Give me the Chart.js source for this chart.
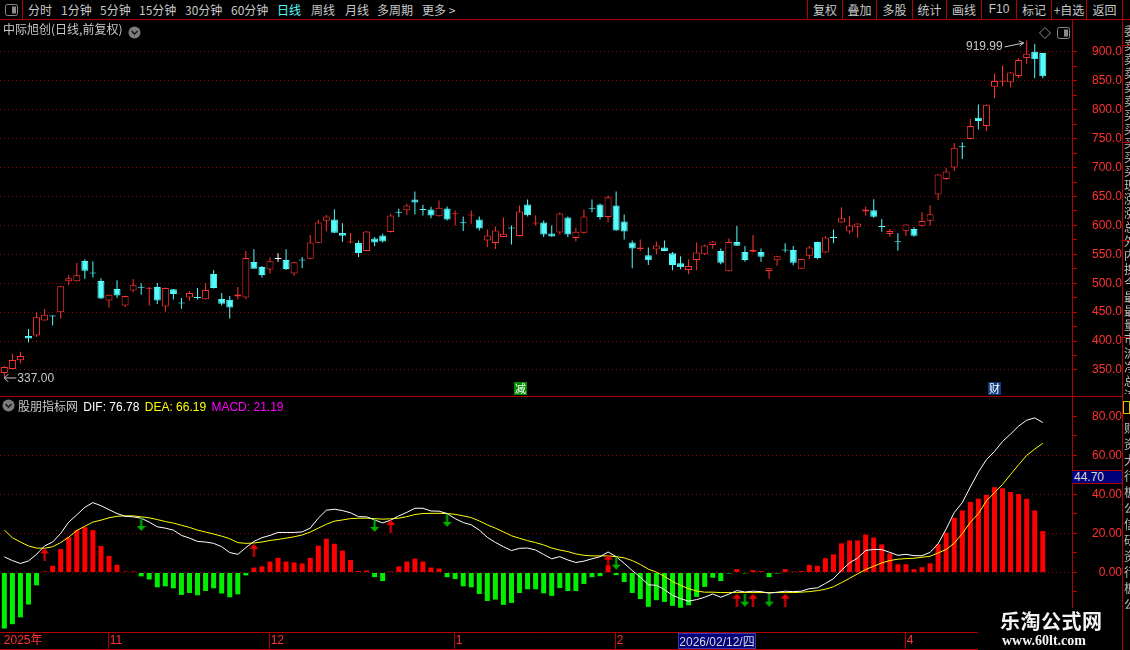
<!DOCTYPE html>
<html lang="zh">
<head>
  <meta charset="UTF-8">
  <title>中际旭创 日线 MACD</title>
  <style>
    body {
      margin: 0;
      background: #000;
    }
    #wrap {
      position: relative;
      width: 1130px;
      height: 650px;
      background: #000;
      overflow: hidden;
      font-family: "Liberation Sans", "Noto Sans CJK SC", sans-serif;
      font-size: 12px;
      color: #c8c8c8;
    }
    canvas, .abs {
      position: absolute;
    }
    .hline {
      position: absolute;
      height: 1px;
      background: #b00000;
    }
    .vline {
      position: absolute;
      width: 1px;
      background: #b00000;
    }
    .tb {
      position: absolute;
      top: 0;
      line-height: 19px;
      white-space: nowrap;
      font-family: "Noto Sans CJK SC", sans-serif;
    }
    .btn {
      position: absolute;
      top: 0;
      line-height: 19px;
      text-align: center;
      font-family: "Noto Sans CJK SC", sans-serif;
    }
    .cjk {
      font-family: "Noto Sans CJK SC", sans-serif;
    }
  </style>
  <script src="https://cdn.jsdelivr.net/npm/chart.js"></script>
</head>
<body>
<div id="wrap">
  <canvas id="priceChart" width="1122" height="377" style="left:0;top:20px"></canvas>
  <canvas id="macdChart" width="1122" height="253" style="left:0;top:397px"></canvas>

  <!-- toolbar -->
  <div class="abs" style="left:5px;top:4px">
    <svg width="13" height="12"><rect x="0.5" y="0.5" width="12" height="11" rx="2" fill="none" stroke="#8a8a8a"/><rect x="7" y="2.5" width="4" height="7" fill="#8a8a8a"/></svg>
  </div>
  <div class="vline" style="left:22px;top:0;height:20px"></div>
  <span class="tb" style="left:28px">分时</span>
  <span class="tb" style="left:61px">1分钟</span>
  <span class="tb" style="left:100px">5分钟</span>
  <span class="tb" style="left:139px">15分钟</span>
  <span class="tb" style="left:185px">30分钟</span>
  <span class="tb" style="left:231px">60分钟</span>
  <span class="tb" style="left:277px;color:#54fcfc">日线</span>
  <span class="tb" style="left:311px">周线</span>
  <span class="tb" style="left:345px">月线</span>
  <span class="tb" style="left:377px">多周期</span>
  <span class="tb" style="left:422px">更多 &gt;</span>

  <div class="vline" style="left:807px;top:0;height:20px"></div>
  <div class="vline" style="left:842px;top:0;height:20px"></div>
  <div class="vline" style="left:876px;top:0;height:20px"></div>
  <div class="vline" style="left:912px;top:0;height:20px"></div>
  <div class="vline" style="left:946px;top:0;height:20px"></div>
  <div class="vline" style="left:981px;top:0;height:20px"></div>
  <div class="vline" style="left:1016px;top:0;height:20px"></div>
  <div class="vline" style="left:1051px;top:0;height:20px"></div>
  <div class="vline" style="left:1086px;top:0;height:20px"></div>
  <span class="btn" style="left:808px;width:34px">复权</span>
  <span class="btn" style="left:843px;width:33px">叠加</span>
  <span class="btn" style="left:877px;width:35px">多股</span>
  <span class="btn" style="left:913px;width:33px">统计</span>
  <span class="btn" style="left:947px;width:34px">画线</span>
  <span class="btn" style="left:982px;width:34px;font-family:'Liberation Sans'">F10</span>
  <span class="btn" style="left:1017px;width:34px">标记</span>
  <span class="btn" style="left:1052px;width:34px">+自选</span>
  <span class="btn" style="left:1087px;width:35px">返回</span>

  <div class="hline" style="left:0;top:19px;width:1130px"></div>

  <!-- price panel title -->
  <span class="abs cjk" style="left:3px;top:21px;line-height:16px">中际旭创(日线,前复权)</span>
  <div class="abs" style="left:128px;top:26px">
    <svg width="13" height="13"><circle cx="6.5" cy="6.5" r="6" fill="#7c7c7c"/><polyline points="3.5,5 6.5,8 9.5,5" fill="none" stroke="#1a1a1a" stroke-width="1.6"/></svg>
  </div>
  <div class="abs" style="left:1039px;top:27px">
    <svg width="12" height="12"><polygon points="6,0.5 11.5,6 6,11.5 0.5,6" fill="none" stroke="#8a8a8a"/></svg>
  </div>
  <div class="abs" style="left:1057px;top:27px">
    <svg width="13" height="12"><rect x="0.5" y="0.5" width="12" height="11" rx="2" fill="none" stroke="#8a8a8a"/><rect x="7" y="2.5" width="4" height="7" fill="#8a8a8a"/></svg>
  </div>

  <div class="hline" style="left:0;top:396px;width:1122px"></div>

  <!-- MACD panel title -->
  <div class="abs" style="left:2px;top:399px">
    <svg width="13" height="13"><circle cx="6.5" cy="6.5" r="6" fill="#7c7c7c"/><polyline points="3.5,5 6.5,8 9.5,5" fill="none" stroke="#1a1a1a" stroke-width="1.6"/></svg>
  </div>
  <span class="abs" style="left:18px;top:398px;line-height:16px;white-space:nowrap">
    <span class="cjk">股朋指标网</span>
    <span style="color:#ffffff;margin-left:2px">DIF: 76.78</span>
    <span style="color:#ffff00;margin-left:2px">DEA: 66.19</span>
    <span style="color:#ff00ff;margin-left:2px">MACD: 21.19</span>
  </span>

  <div class="abs" style="left:1072px;top:470px;width:50px;height:14px;background:#00007a;border-top:1px solid #b00000;border-bottom:1px solid #b00000;color:#d8d8d8;line-height:12px;padding-left:2px;box-sizing:border-box">44.70</div>

  <!-- bottom date axis frame -->
  <div class="hline" style="left:0;top:649px;width:978px"></div>
  <div class="abs" style="left:678px;top:633px;width:78px;height:16px;background:#00007a;border:1px solid #3a3aa8;box-sizing:border-box;color:#d8d8d8;line-height:14px;text-align:center;white-space:nowrap">2026/02/12/<span class="cjk">四</span></div>

  <!-- watermark -->
  <div class="abs" style="left:978px;top:608px;width:152px;height:42px;background:#000">
    <div class="abs cjk" style="left:22px;top:1px;font-size:20px;font-weight:bold;color:#f4f4f4;line-height:24px;letter-spacing:0.5px">乐淘公式网</div>
    <div class="abs" style="left:24px;top:25px;font-family:'Liberation Serif',serif;font-size:14px;font-weight:bold;color:#f4f4f4;line-height:16px">www.60lt.com</div>
  </div>

  <!-- right edge -->
  <div class="vline" style="left:1122px;top:0;height:650px"></div>
  <div class="abs cjk" style="left:1124px;top:24px;width:6px;height:370px;overflow:hidden;line-height:14px;color:#bdbdbd">委<br>卖<br>卖<br>卖<br>卖<br>卖<br>买<br>买<br>买<br>买<br>买<br>现<br>涨<br>涨<br>总<br>外<br>内<br>换<br>今<br>最<br>最<br>量<br>市<br>流<br>净<br>总<br>流<br>收</div>
  <div class="abs cjk" style="left:1124px;top:420px;width:6px;height:200px;overflow:hidden;line-height:16px;color:#bdbdbd">财<br>资<br>大<br>行<br>板<br>公<br>信<br>研<br>资<br>行<br>板<br>公</div>
  <div class="hline" style="left:1123px;top:45px;width:7px"></div>
  <div class="hline" style="left:1123px;top:142px;width:7px"></div>
  <div class="hline" style="left:1123px;top:240px;width:7px"></div>
  <div class="hline" style="left:1123px;top:337px;width:7px"></div>
  <div class="abs" style="left:1123px;top:401px;width:7px;height:13px;border:1px solid #c8c800;box-sizing:border-box"></div>
</div>

<script>
  // daily candles (front-adjusted), one entry per trading day
  const opens = [345, 351.7, 366.7, 409, 409.8, 435.6, 443.7, 450, 503.4, 503.4,
    538.5, 517.8, 504, 470, 490.2, 461.5, 487.4, 492.8, 490.6, 493.7,
    459.8, 489.7, 465.8, 475.3, 475, 472.4, 516, 473, 471.3, 477,
    475.3, 536.8, 528.2, 523.6, 542, 540.2, 516.7, 539.9, 542.5, 570,
    608, 610.3, 586.8, 570.4, 569.5, 555.7, 577.6, 582.8, 588.5, 622.7,
    626.4, 644.8, 627.3, 627.6, 616, 629.3, 619.5, 605.2, 617.2, 610.3,
    574, 569.5, 579.9, 595.1, 581.6, 636.2, 603.4, 605.2, 586.2, 588,
    613.8, 578.2, 587.4, 630.5, 636.2, 614.4, 634.5, 606.9, 570.7, 559.2,
    548.3, 558.6, 562, 551.7, 534.5, 523, 540.2, 550, 566.1, 555.7,
    520.7, 571.3, 554, 554.6, 554, 521.3, 539.7, 557.2, 557.5, 525.3,
    547.7, 571.3, 553.4, 579, 605.2, 589.7, 597.7, 624.1, 626.4, 598,
    585, 571.6, 590.8, 593.7, 599.4, 608, 653.4, 680.5, 700, 735.9,
    749.4, 786.2, 771.8, 839.7, 848.3, 847.7, 858.6, 889.7, 900.6, 898.3];

  const closes = [355, 367.2, 374, 404.6, 441.4, 445.4, 442.5, 494.8, 508.6, 513.8,
    521.8, 516.7, 473.6, 480, 478.7, 478, 496.6, 492.2, 491.1, 470,
    492, 481.6, 465.2, 483.3, 474.4, 488.5, 492, 464.4, 458, 480.5,
    543.7, 525.3, 514.4, 538, 542, 524.7, 536.2, 539.3, 570.7, 605,
    615.5, 587.4, 582.2, 571, 552.3, 589.7, 570.7, 572.4, 617.2, 622.1,
    634.5, 639.7, 626.7, 617.2, 630.5, 610.3, 621.3, 604, 618.4, 594.8,
    582.8, 591.4, 585.6, 594.5, 624, 617.8, 605.2, 584.5, 581, 620.7,
    584.5, 589, 615.5, 628.7, 614.4, 648.9, 591.4, 589.7, 560.3, 562,
    539.7, 565.5, 555.7, 531.6, 527.6, 529.9, 553.4, 565.5, 572.4, 535.6,
    571.3, 565, 540.2, 557.5, 546, 525.9, 546.6, 556.6, 535.6, 542,
    562, 543.7, 579.3, 578.4, 612.6, 600, 603.4, 627.6, 615, 597.4,
    590.2, 571, 601.7, 582.2, 607.5, 619.5, 688, 693.1, 734.5, 735.3,
    771.8, 780.5, 808.6, 850, 850, 864.4, 886.2, 897.1, 887.4, 858];

  const highs = [357, 378, 381.5, 420.7, 450, 455.7, 444.8, 495, 513.8, 535,
    541.4, 538, 508.6, 480.5, 505, 478.5, 507.5, 500, 494, 500.6,
    492.5, 490, 474.7, 486.8, 492, 500, 523, 483.3, 478, 493.7,
    555.7, 559, 530, 545, 551.7, 559, 536.8, 545.4, 583.3, 610,
    618, 628, 604, 586.8, 574, 590.3, 580, 585.6, 620, 628.7,
    637.4, 658.6, 636, 632.2, 643, 632.8, 625.9, 615.5, 625.9, 615.5,
    593, 598.3, 613.8, 600, 634.5, 644.8, 617.2, 608.6, 600, 622.4,
    615.5, 596, 627.6, 644.8, 637.9, 651.7, 658.6, 619, 574, 575.9,
    562, 572.4, 574, 554, 546.6, 541.4, 570.7, 567, 572.9, 560.3,
    577.6, 598.9, 564.4, 583.3, 560.3, 526.3, 547, 569, 564.4, 542.4,
    564.4, 571.7, 581.6, 593, 631.6, 616, 603.8, 632.2, 645.4, 611,
    593.7, 586.8, 602.1, 597, 623, 635, 688.4, 699.4, 742.5, 743.7,
    784.5, 809.2, 809, 862.6, 876.4, 866, 889, 919.99, 913.8, 898.7];

  const lows = [337, 351, 361.5, 397.7, 407, 435, 427, 439, 496.5, 503,
    508, 509.8, 473, 458, 475, 459, 484.5, 480, 461.5, 464,
    450.6, 471.8, 456, 470, 471.8, 472, 491, 461.5, 439, 472.4,
    472.4, 525, 509.8, 517, 537.4, 523, 513, 526, 541.4, 569.5,
    590, 587, 572, 569, 545.4, 555.2, 564, 570.7, 588, 614.4,
    617.8, 619, 617, 612.6, 615.5, 608.6, 600, 590.2, 602.9, 591.4,
    562.6, 559.2, 579.4, 567, 581.2, 615.5, 600, 580, 580.6, 584.5,
    580, 572.4, 585.6, 623, 610.3, 605.2, 591, 575.9, 525.9, 555.7,
    531.6, 550.6, 555.2, 522.4, 524.1, 515.5, 522.4, 549, 559.8, 532.8,
    520.3, 564.6, 537.4, 553.4, 537.4, 508, 530, 553.4, 531, 524.9,
    541.4, 541.4, 551.7, 569, 604.8, 585.6, 578.7, 617.2, 613.2, 589,
    580.5, 556.3, 582.2, 580.5, 597.7, 599.4, 643.7, 678.7, 694.3, 715,
    749, 766, 763.2, 820.1, 840.8, 839, 854.6, 878.7, 854.6, 854.6];

  // MACD indicator
  const difVals = [8, 6.1, 4.6, 5.9, 9.3, 13.6, 15.6, 20, 25.8, 29.5,
    33.4, 35.8, 34.2, 32.2, 30.2, 28.8, 28.5, 27.8, 25.8, 23.4,
    22.7, 21.7, 19, 17.6, 15.9, 15.6, 14.9, 13.2, 10.2, 9.3,
    12.7, 15.9, 17.8, 19, 20.5, 20.5, 20.5, 20.8, 22.7, 27.8,
    31.9, 32.4, 31.7, 30.6, 28.6, 28.5, 26.9, 25.4, 26.8, 29,
    30.8, 32.9, 32.9, 31.5, 31.4, 30.2, 27.6, 25.6, 24.4, 21.7,
    18, 15.4, 13.2, 11.2, 12.4, 12.5, 11.5, 9.2, 7, 8.1,
    6.4, 5.1, 5.8, 7, 8.1, 10.5, 8.1, 4.7, 1, -2.4,
    -6.3, -6.6, -8.8, -11.7, -13.4, -14.7, -13.9, -12.7, -11, -12.7,
    -11.1, -9.3, -10, -9.6, -9.8, -10.6, -10.1, -9.6, -9.8, -9.6,
    -8.3, -7.9, -5.6, -3.2, 1.2, 4.9, 7.4, 11.3, 11.8, 11.7,
    10.3, 8.8, 9.3, 8.6, 8.6, 10.3, 14.7, 22.3, 30.7, 35.8,
    43.8, 51.4, 57.8, 62, 67.1, 70.9, 75, 78, 79.2, 76.8];

  const deaVals = [21.7, 17.8, 15.6, 13.6, 12.5, 12.4, 13.2, 15.3, 18.1, 21.5,
    23.7, 25.8, 26.8, 28, 28.8, 29, 29, 28.5, 28, 27.1,
    26.1, 25.3, 24.2, 23.1, 21.7, 20.7, 19.7, 18.6, 17.3, 15.3,
    14.9, 15.1, 15.6, 16.4, 16.9, 17.6, 18.3, 19.2, 20.7, 22.7,
    24.7, 26.3, 26.9, 27.6, 27.8, 27.8, 27.6, 27.3, 27.5, 27.8,
    28.6, 29.7, 30.2, 30.3, 30.3, 30.2, 29.8, 29, 28.1, 26.4,
    24.4, 22.7, 20.8, 18.8, 17.5, 16.3, 15.3, 14.1, 12.5, 11.5,
    10.7, 9.5, 8.8, 8.5, 8.5, 8.5, 8.1, 7.5, 6.1, 4.1,
    1.7, 0.2, -2, -4.6, -6.6, -8.3, -9.5, -10.1, -10.1, -10.3,
    -10.3, -10.3, -10.3, -10.3, -10.3, -10.3, -10.3, -10.3, -10.3, -10.1,
    -9.8, -9.3, -8.6, -7.3, -5.2, -3, -0.7, 1.5, 3.2, 4.9,
    6.1, 6.8, 7.1, 7.3, 7.8, 8.3, 10, 11.8, 15, 19.9,
    25.7, 30.1, 36.7, 40.9, 45.1, 50.2, 55.2, 60, 63.2, 66.2];

  const macdVals = [-28.7, -26.5, -23, -16.4, -6.6, 0.5, 3.4, 12, 18.1, 21.7,
    23.2, 21.7, 13.6, 8.5, 3.9, 0.3, 0.2, -2, -3.6, -7.6,
    -7.1, -8.1, -11.5, -10.5, -11.7, -9.5, -8.1, -10.8, -12.7, -11.2,
    -1.5, 2.5, 3.1, 5.6, 7.5, 5.6, 5.1, 4.6, 7.5, 13.7,
    17.3, 14.7, 11.2, 6.4, 0.7, 1, -2.4, -4.4, 0.5, 3.1,
    5.6, 7.1, 5.6, 2.5, 2, -2.4, -3.4, -7.1, -7.6, -11,
    -14.6, -13.9, -16.6, -15.6, -10.5, -8.6, -8.6, -10.7, -12, -8,
    -9.5, -9.5, -5.9, -2.4, -1.9, 3.6, -1.4, -4.9, -10.5, -13.6,
    -17.6, -14.2, -15.1, -17.1, -18.1, -16.8, -12.5, -7.4, -2.7, -4.4,
    -0.2, 1.7, -0.2, 1.2, 0.7, -2.4, -0.5, 1.7, 0.2, 0.7,
    3.9, 3.4, 7.3, 9.3, 14.9, 16.4, 16.4, 19.4, 17.9, 14.4,
    9.8, 4.2, 4.2, 1.7, 2.7, 4.7, 14.5, 20.4, 28, 31.8,
    36.1, 37.8, 39.7, 43.7, 43.1, 41.2, 40.2, 37.7, 31.8, 21.2];

  // golden / dead cross signals
  const upArrowIdx = [5, 31, 48, 75, 91, 93, 97];
  const upArrowVal = [9, 11.3, 23.6, 5.8, -14.2, -14.2, -14.2];
  const downArrowIdx = [17, 46, 55, 76, 92, 95];
  const downArrowVal = [24.6, 24.1, 26.7, 4.8, -14.2, -14.2];

  // event markers on the price panel
  const eventIdx = [64, 123];
  const eventText = ['减', '财'];
  const eventColor = ['#008a00', '#0c3a7a'];

  // date axis
  const yearLabel = '2025年';
  const monthStartIdx = [13, 33, 56, 76, 112];
  const monthLabels = ['11', '12', '1', '2', '4'];

  const priceTicks = [350, 375, 400, 425, 450, 475, 500, 525, 550, 575, 600, 625, 650, 675, 700,
    725, 750, 775, 800, 825, 850, 875, 900];
  const macdTicks = [-20, -10, 0, 10, 20, 30, 40, 50, 60, 70, 80];

  const RED = '#ff3232';
  const CYAN = '#54fcfc';
  const AXIS = '#b00000';
  const GRID = '#900000';
  const X_MIN = -0.54;
  const X_MAX = 132.63;

  Chart.defaults.font.family = '"Liberation Sans", "Noto Sans CJK SC", sans-serif';
  Chart.defaults.font.size = 12;

  const idx = opens.map((_, i) => i);
  const candleColor = idx.map(i => closes[i] > opens[i] ? RED : (closes[i] < opens[i] ? CYAN : '#ffffff'));
  const bodyFill = idx.map(i => closes[i] < opens[i] ? CYAN : '#000000');

  // highest / lowest price notes and event boxes
  const priceNotes = {
    id: 'priceNotes',
    afterDatasetsDraw(chart) {
      const { ctx, chartArea, scales: { x, y } } = chart;
      const hiIdx = highs.indexOf(Math.max(...highs));
      const loIdx = lows.indexOf(Math.min(...lows));
      ctx.save();
      ctx.font = '12px "Liberation Sans"';
      ctx.fillStyle = '#c8c8c8';
      ctx.strokeStyle = '#c8c8c8';
      ctx.lineWidth = 1;
      ctx.textBaseline = 'middle';

      const hx = x.getPixelForValue(hiIdx);
      const hy = y.getPixelForValue(highs[hiIdx]);
      ctx.textAlign = 'right';
      ctx.fillText(highs[hiIdx].toFixed(2), hx - 24, hy + 6);
      ctx.beginPath();
      ctx.moveTo(hx - 22, hy + 6.5);
      ctx.lineTo(hx - 3, hy + 2.5);
      ctx.moveTo(hx - 8, hy + 0.5);
      ctx.lineTo(hx - 3, hy + 2.5);
      ctx.lineTo(hx - 7, hy + 5.5);
      ctx.stroke();

      const lx = x.getPixelForValue(loIdx);
      const ly = y.getPixelForValue(lows[loIdx]);
      ctx.textAlign = 'left';
      ctx.fillText(lows[loIdx].toFixed(2), lx + 13, ly + 1);
      ctx.beginPath();
      ctx.moveTo(lx + 12, ly + 0.5);
      ctx.lineTo(lx, ly + 0.5);
      ctx.moveTo(lx + 4, ly - 3.5);
      ctx.lineTo(lx, ly + 0.5);
      ctx.lineTo(lx + 4, ly + 4.5);
      ctx.stroke();

      ctx.font = '11px "Noto Sans CJK SC"';
      ctx.textAlign = 'center';
      eventIdx.forEach((k, j) => {
        const ex = Math.round(x.getPixelForValue(k));
        ctx.fillStyle = eventColor[j];
        ctx.fillRect(ex - 6, chartArea.bottom - 15, 13, 13);
        ctx.fillStyle = '#ffffff';
        ctx.fillText(eventText[j], ex + 0.5, chartArea.bottom - 8.5);
      });
      ctx.restore();
    }
  };

  // month labels inside the date axis box, just right of each separator
  const dateLabels = {
    id: 'dateLabels',
    afterDraw(chart) {
      const { ctx, scales: { x } } = chart;
      const mid = x.top + 9;
      ctx.save();
      ctx.font = '12px "Liberation Sans", "Noto Sans CJK SC"';
      ctx.fillStyle = RED;
      ctx.textAlign = 'left';
      ctx.textBaseline = 'middle';
      ctx.fillText(yearLabel, x.getPixelForValue(0) - 0.5, mid);
      monthStartIdx.forEach((k, j) => {
        ctx.fillText(monthLabels[j], x.getPixelForValue(k - 0.1) + 1.5, mid);
      });
      ctx.restore();
    }
  };

  new Chart(document.getElementById('priceChart'), {
    type: 'bar',
    data: {
      datasets: [
        {
          label: 'wick',
          data: idx.map(i => ({ x: i, y: [lows[i], highs[i]] })),
          backgroundColor: candleColor,
          barThickness: 1,
          grouped: false,
          inflateAmount: 0,
          order: 2
        },
        {
          label: 'body',
          data: idx.map(i => ({ x: i, y: [opens[i], closes[i]] })),
          backgroundColor: bodyFill,
          borderColor: candleColor,
          borderWidth: 1,
          borderSkipped: false,
          barThickness: 7,
          minBarLength: 1,
          grouped: false,
          inflateAmount: 0,
          order: 1
        }
      ]
    },
    options: {
      responsive: false,
      animation: false,
      devicePixelRatio: 1,
      events: [],
      layout: { padding: 0, autoPadding: false },
      plugins: { legend: { display: false }, tooltip: { enabled: false } },
      scales: {
        x: { type: 'linear', display: false, min: X_MIN, max: X_MAX, offset: false },
        y: {
          position: 'right',
          min: 303.3,
          max: 955.3,
          afterBuildTicks: s => { s.ticks = priceTicks.map(v => ({ value: v })); },
          afterFit: s => { s.width = 50; s.paddingTop = 0; s.paddingBottom = 0; },
          border: { display: true, color: AXIS, dash: [1, 3] },
          grid: {
            color: c => (c.tick && c.tick.value % 50 === 0) ? GRID : 'rgba(0,0,0,0)',
            tickColor: AXIS,
            tickLength: 5,
            tickBorderDash: []
          },
          ticks: {
            color: RED,
            crossAlign: 'far',
            padding: 7,
            autoSkip: false,
            callback: v => v % 50 === 0 ? v.toFixed(1) : ''
          }
        }
      }
    },
    plugins: [priceNotes]
  });

  // signal arrows drawn as point images
  function makeArrow(color, up) {
    const c = document.createElement('canvas');
    c.width = 9;
    c.height = 13;
    const g = c.getContext('2d');
    g.fillStyle = color;
    g.beginPath();
    if (up) {
      g.moveTo(4.5, 0); g.lineTo(9, 5); g.lineTo(0, 5);
      g.closePath(); g.fill();
      g.fillRect(3.5, 5, 2, 8);
    } else {
      g.moveTo(4.5, 13); g.lineTo(9, 8); g.lineTo(0, 8);
      g.closePath(); g.fill();
      g.fillRect(3.5, 0, 2, 8);
    }
    return c;
  }

  new Chart(document.getElementById('macdChart'), {
    type: 'bar',
    data: {
      datasets: [
        {
          label: 'MACD',
          data: idx.map(i => ({ x: i, y: macdVals[i] })),
          backgroundColor: macdVals.map(v => v >= 0 ? '#ff0000' : '#00f000'),
          barThickness: 5,
          minBarLength: 1,
          grouped: false,
          inflateAmount: 0,
          order: 4
        },
        {
          type: 'line',
          label: 'DEA',
          data: idx.map(i => ({ x: i, y: deaVals[i] })),
          borderColor: '#ffff00',
          borderWidth: 1,
          pointRadius: 0,
          tension: 0,
          order: 3
        },
        {
          type: 'line',
          label: 'DIF',
          data: idx.map(i => ({ x: i, y: difVals[i] })),
          borderColor: '#ffffff',
          borderWidth: 1,
          pointRadius: 0,
          tension: 0,
          order: 2
        },
        {
          type: 'scatter',
          label: 'up',
          data: upArrowIdx.map((k, j) => ({ x: k, y: upArrowVal[j] })),
          pointStyle: makeArrow('#f00000', true),
          pointRadius: 4,
          order: 1
        },
        {
          type: 'scatter',
          label: 'down',
          data: downArrowIdx.map((k, j) => ({ x: k, y: downArrowVal[j] })),
          pointStyle: makeArrow('#00b400', false),
          pointRadius: 4,
          order: 0
        }
      ]
    },
    options: {
      responsive: false,
      animation: false,
      devicePixelRatio: 1,
      events: [],
      layout: { padding: 0, autoPadding: false },
      plugins: { legend: { display: false }, tooltip: { enabled: false } },
      scales: {
        x: {
          type: 'linear',
          position: 'bottom',
          min: X_MIN,
          max: X_MAX,
          offset: false,
          afterBuildTicks: s => { s.ticks = monthStartIdx.map(k => ({ value: k - 0.1 })); },
          afterFit: s => { s.height = 18; s.paddingLeft = 0; s.paddingRight = 0; },
          border: { display: true, color: AXIS },
          grid: {
            offset: false,
            drawOnChartArea: false,
            drawTicks: true,
            tickLength: 17,
            tickColor: AXIS
          },
          ticks: { display: false }
        },
        y: {
          position: 'right',
          min: -30.5,
          max: 89.9,
          afterBuildTicks: s => { s.ticks = macdTicks.map(v => ({ value: v })); },
          afterFit: s => { s.width = 50; s.paddingTop = 0; s.paddingBottom = 0; },
          border: { display: true, color: AXIS, dash: [1, 3] },
          grid: {
            color: c => (c.tick && c.tick.value % 20 === 0 && c.tick.value >= 0 && c.tick.value < 80) ? GRID : 'rgba(0,0,0,0)',
            tickColor: AXIS,
            tickLength: 5,
            tickBorderDash: []
          },
          ticks: {
            color: RED,
            crossAlign: 'far',
            padding: 7,
            autoSkip: false,
            callback: v => (v % 20 === 0 && v >= 0) ? v.toFixed(2) : ''
          }
        }
      }
    },
    plugins: [dateLabels]
  });
</script>
</body>
</html>
